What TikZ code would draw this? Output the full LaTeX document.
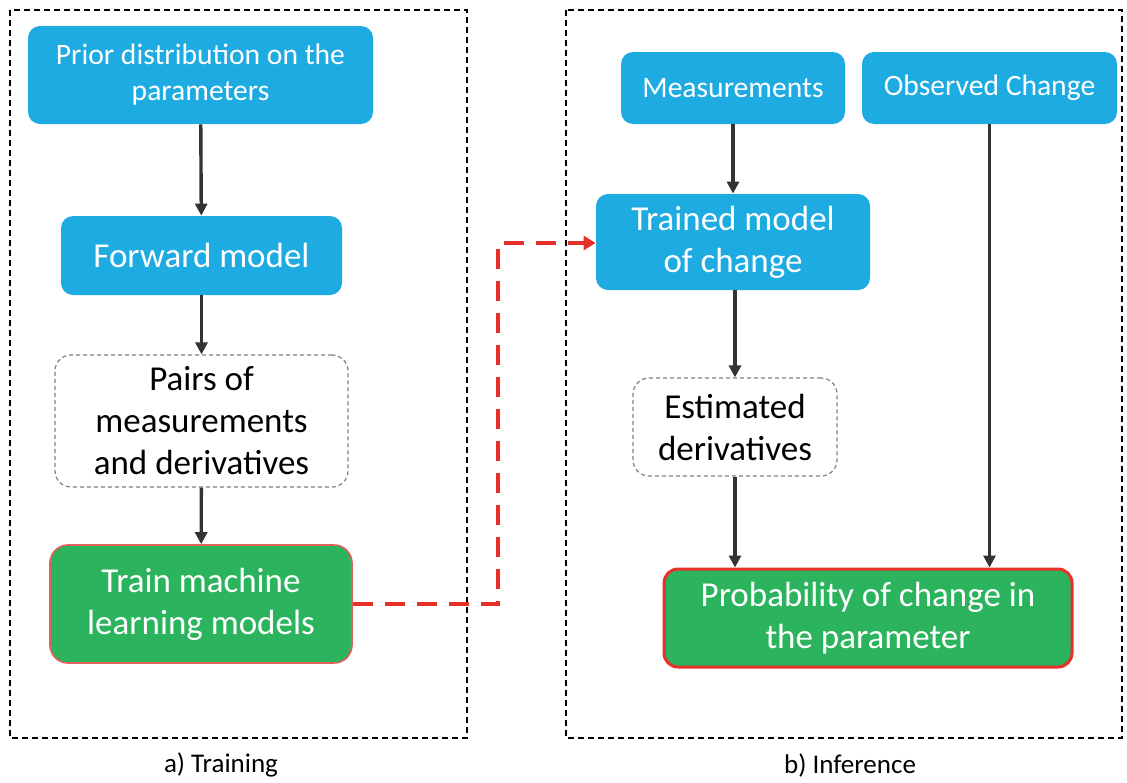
\documentclass[tikz,border=0pt]{standalone}
\usepackage{fontspec}
\setmainfont{Carlito}
\usepackage{xcolor}
\usetikzlibrary{arrows.meta, positioning, calc}

\definecolor{boxblue}{RGB}{30,171,226}
\definecolor{boxgreen}{RGB}{43,179,94}
\definecolor{linkred}{RGB}{232,48,42}
\definecolor{arrowgray}{RGB}{51,51,51}

\begin{document}
\begin{tikzpicture}[
x=0.5pt, y=-0.5pt,
small/.style={font=\fontsize{14.8}{18}\selectfont},
big/.style={font=\fontsize{17.5}{21}\selectfont},
bluebox/.style={fill=boxblue, text=white, rectangle, rounded corners=6pt, inner sep=0pt, align=center},
greenbox/.style={fill=boxgreen, text=white, rectangle, rounded corners=9pt, inner sep=0pt, align=center},
plainbox/.style={draw=gray, dashed, dash pattern=on 2pt off 1.5pt, line width=0.6pt, rectangle, rounded corners=8pt, inner sep=0pt, align=center},
frame/.style={draw=black, dash pattern=on 3pt off 2pt, line width=0.7pt},
flow/.style={draw=arrowgray, line width=1.7pt, -{Triangle[length=6pt, width=6pt]}},
link/.style={draw=linkred, line width=2pt, dash pattern=on 10pt off 6pt, -{Triangle[length=6pt, width=7pt]}}
]
\useasboundingbox (0,0) rectangle (1127,782);

% panels
\draw[frame] (10,10) rectangle (467,738);
\draw[frame] (566,10) rectangle (1122,738);
\node[font=\fontsize{13.5}{16}\selectfont] (lbltrain) at (221,765) {a) Training};
\node[font=\fontsize{13.5}{16}\selectfont] (lblinfer) at (850,765) {b) Inference};

% training
\node[bluebox, small, minimum width=172.5pt, minimum height=49pt] (prior) at (200.5,75)
{Prior distribution on the\\parameters};
\node[bluebox, big, minimum width=140.5pt, minimum height=39.5pt] (forward) at (201.5,255.5)
{Forward model};
\node[plainbox, big, minimum width=146.5pt, minimum height=66pt] (pairs) at (201.5,421)
{Pairs of\\measurements\\and derivatives};
\node[greenbox, big, draw={rgb,255:red,224;green,96;blue,90}, line width=0.8pt,
minimum width=151pt, minimum height=59pt] (train) at (201,604)
{Train machine\\learning models};

% inference
\node[bluebox, small, minimum width=112pt, minimum height=36pt] (meas) at (733,88)
{Measurements};
\node[bluebox, small, minimum width=127.5pt, minimum height=36pt] (observed) at (989.5,88)
{Observed Change};
\node[bluebox, big, minimum width=137pt, minimum height=48pt] (trained) at (733,242)
{Trained model\\of change};
\node[plainbox, big, minimum width=102pt, minimum height=49pt] (estimated) at (735,427)
{Estimated\\derivatives};
\node[greenbox, big, draw=linkred, line width=1.5pt, rounded corners=7pt,
minimum width=204pt, minimum height=49pt] (prob) at (868,618)
{Probability of change in\\the parameter};

\draw[flow] (prior) -- (forward);
\draw[flow] (forward) -- (pairs);
\draw[flow] (pairs) -- (train);

\draw[flow] (meas.south -| trained) -- (trained);
\draw[flow] (trained.south -| estimated) -- (estimated);
\draw[flow] (estimated) -- (estimated |- prob.north);
\draw[flow] (observed) -- (observed |- prob.north);

\draw[link] (train.east) -| (498,243) -- (trained.west |- 0,243);

\end{tikzpicture}
\end{document}
